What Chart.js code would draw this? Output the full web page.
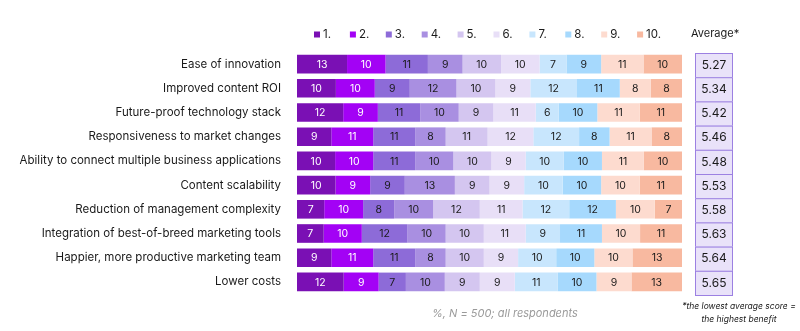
<!DOCTYPE html>
<html>
<head>
<meta charset="utf-8">
<script src="https://cdn.jsdelivr.net/npm/chart.js@4"></script>
<style>
  html, body { margin: 0; padding: 0; background: #fff; }
  #wrap { width: 800px; height: 331px; position: relative; }
</style>
</head>
<body>
<div id="wrap"><canvas id="benefitChart" width="800" height="331"></canvas></div>
<script>
const categories = [
  'Ease of innovation',
  'Improved content ROI',
  'Future-proof technology stack',
  'Responsiveness to market changes',
  'Ability to connect multiple business applications',
  'Content scalability',
  'Reduction of management complexity',
  'Integration of best-of-breed marketing tools',
  'Happier, more productive marketing team',
  'Lower costs'
];

const scoreLabels = ['1.', '2.', '3.', '4.', '5.', '6.', '7.', '8.', '9.', '10.'];

// share of respondents per score, one array per score (rows follow categories)
const score1  = [13, 10, 12,  9, 10, 10,  7,  7,  9, 12];
const score2  = [10, 10,  9, 11, 10,  9, 10, 10, 11,  9];
const score3  = [11,  9, 11, 11, 11,  9,  8, 12, 11,  7];
const score4  = [ 9, 12, 10,  8, 10, 13, 10, 10,  8, 10];
const score5  = [10, 10,  9, 11, 10,  9, 12, 10, 10,  9];
const score6  = [10,  9, 11, 12,  9,  9, 11, 11,  9,  9];
const score7  = [ 7, 12,  6, 12, 10, 10, 12,  9, 10, 11];
const score8  = [ 9, 11, 10,  8, 10, 10, 12, 11, 10, 10];
const score9  = [11,  8, 11, 11, 11, 10, 10, 10, 10,  9];
const score10 = [10,  8, 11,  8, 10, 11,  7, 11, 13, 13];

const averages = ['5.27', '5.34', '5.42', '5.46', '5.48', '5.53', '5.58', '5.63', '5.64', '5.65'];

const scoreValues = [score1, score2, score3, score4, score5, score6, score7, score8, score9, score10];
const scoreColors = ['#7a10b4', '#a302f5', '#8d6bd8', '#a98fe1', '#d4c6f0', '#e8dff7',
                     '#c8e6fd', '#a6d9fd', '#fddbcf', '#f8b9a0'];
const darkText = '#1a1a1a';
const fontFamily = 'Inter, Roboto, "Noto Sans", sans-serif';

// rows are drawn full width, so each value is plotted as its share of the row total
const rowTotals = categories.map((c, i) => scoreValues.reduce((s, arr) => s + arr[i], 0));

const datasets = scoreValues.map((vals, k) => ({
  label: scoreLabels[k],
  raw: vals,
  data: vals.map((v, i) => v / rowTotals[i] * 100),
  backgroundColor: scoreColors[k],
  borderWidth: 0,
  barPercentage: 0.77,
  categoryPercentage: 1
}));

const extrasPlugin = {
  id: 'extras',
  afterDatasetsDraw(chart) {
    const ctx = chart.ctx;
    ctx.save();
    ctx.font = '10.5px ' + fontFamily;
    ctx.textAlign = 'center';
    ctx.textBaseline = 'middle';
    chart.data.datasets.forEach((ds, k) => {
      const meta = chart.getDatasetMeta(k);
      meta.data.forEach((bar, i) => {
        ctx.fillStyle = k < 2 ? '#ffffff' : darkText;
        ctx.fillText(String(ds.raw[i]), (bar.x + bar.base) / 2, bar.y + 0.5);
      });
    });

    // legend
    let lx = 314;
    ctx.textAlign = 'left';
    ctx.font = '11.5px ' + fontFamily;
    chart.data.datasets.forEach((ds, k) => {
      ctx.fillStyle = ds.backgroundColor;
      ctx.fillRect(lx, 31.5, 6, 6);
      ctx.fillStyle = darkText;
      ctx.fillText(ds.label, lx + 9, 35);
      lx += 35.9;
    });
    ctx.font = '11px ' + fontFamily;
    ctx.fillText('Average*', 691, 34);

    // average boxes
    const yScale = chart.scales.y;
    const step = yScale.getPixelForValue(1) - yScale.getPixelForValue(0);
    ctx.textAlign = 'center';
    ctx.font = '12px ' + fontFamily;
    averages.forEach((a, i) => {
      const cy = yScale.getPixelForValue(i);
      const top = cy - step / 2 + 1;
      ctx.fillStyle = '#e9e2f9';
      ctx.fillRect(695, top, 38, step);
      ctx.strokeStyle = '#9c80e2';
      ctx.lineWidth = 1;
      ctx.strokeRect(695.5, top + 0.5, 37, step);
      ctx.fillStyle = darkText;
      ctx.fillText(a, 714, cy + 1);
    });

    // notes
    ctx.font = 'italic 11px ' + fontFamily;
    ctx.fillStyle = '#9a9a9a';
    ctx.textAlign = 'left';
    ctx.fillText('%, N = 500; all respondents', 432, 314);
    ctx.fillStyle = darkText;
    ctx.textAlign = 'center';
    ctx.font = 'italic 8.5px ' + fontFamily;
    ctx.fillText('*the lowest average score =', 739, 306);
    ctx.fillText('the highest benefit', 739, 319);
    ctx.restore();
  }
};

new Chart(document.getElementById('benefitChart'), {
  type: 'bar',
  data: { labels: categories, datasets: datasets },
  plugins: [extrasPlugin],
  options: {
    indexAxis: 'y',
    responsive: false,
    animation: false,
    layout: { padding: { top: 52, bottom: 37, left: 0, right: 118 } },
    plugins: { legend: { display: false }, tooltip: { enabled: false } },
    scales: {
      x: { stacked: true, display: false, min: 0, max: 100 },
      y: {
        stacked: true,
        grid: { display: false },
        border: { display: false },
        ticks: {
          color: darkText,
          padding: 8,
          font: { size: 11.5, family: fontFamily }
        },
        afterFit(scale) { scale.width = 297; }
      }
    }
  }
});
</script>
</body>
</html>
